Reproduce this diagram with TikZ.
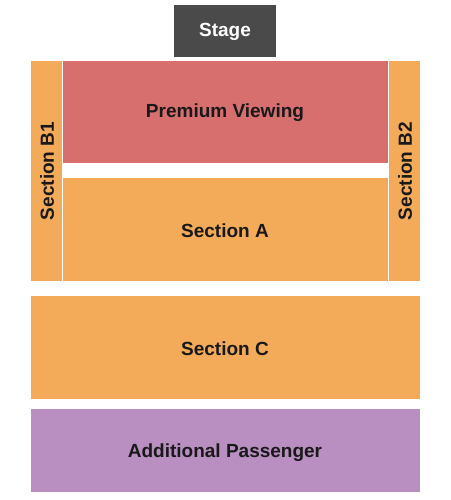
\documentclass[tikz,border=0pt]{standalone}
\usepackage{fontspec}
\setmainfont{Liberation Sans}
\definecolor{orangeS}{HTML}{F3AA59}
\definecolor{redS}{HTML}{D66F6E}
\definecolor{purpleS}{HTML}{B98EC1}
\definecolor{stageS}{HTML}{4A4A4A}
\begin{document}
\begin{tikzpicture}[x=1pt,y=-1pt,
  lbl/.style={font=\fontsize{19}{21}\selectfont\bfseries, text=black!90},
  area/.style={draw=none}]
\useasboundingbox[fill=white] (0,0) rectangle (450,500);
\fill[stageS] (174,5) rectangle (276,57);
\node[lbl, text=white] (stage) at (225,31.5) {Stage};
\fill[orangeS] (31,61) rectangle (61.5,281);
\node[lbl, rotate=90] (b1) at (47,171) {Section B1};
\fill[orangeS] (389,61) rectangle (420,281);
\node[lbl, rotate=90] (b2) at (405,171) {Section B2};
\fill[redS] (62.5,61) rectangle (388,163);
\node[lbl] (prem) at (225,112.5) {Premium Viewing};
\fill[orangeS] (62.5,178) rectangle (388,281);
\node[lbl] (a) at (225,230.5) {Section A};
\fill[orangeS] (31,296) rectangle (420,399);
\node[lbl] (c) at (225,348.5) {Section C};
\fill[purpleS] (31,409) rectangle (420,492);
\node[lbl] (ap) at (225,452.5) {Additional Passenger};
\end{tikzpicture}
\end{document}
